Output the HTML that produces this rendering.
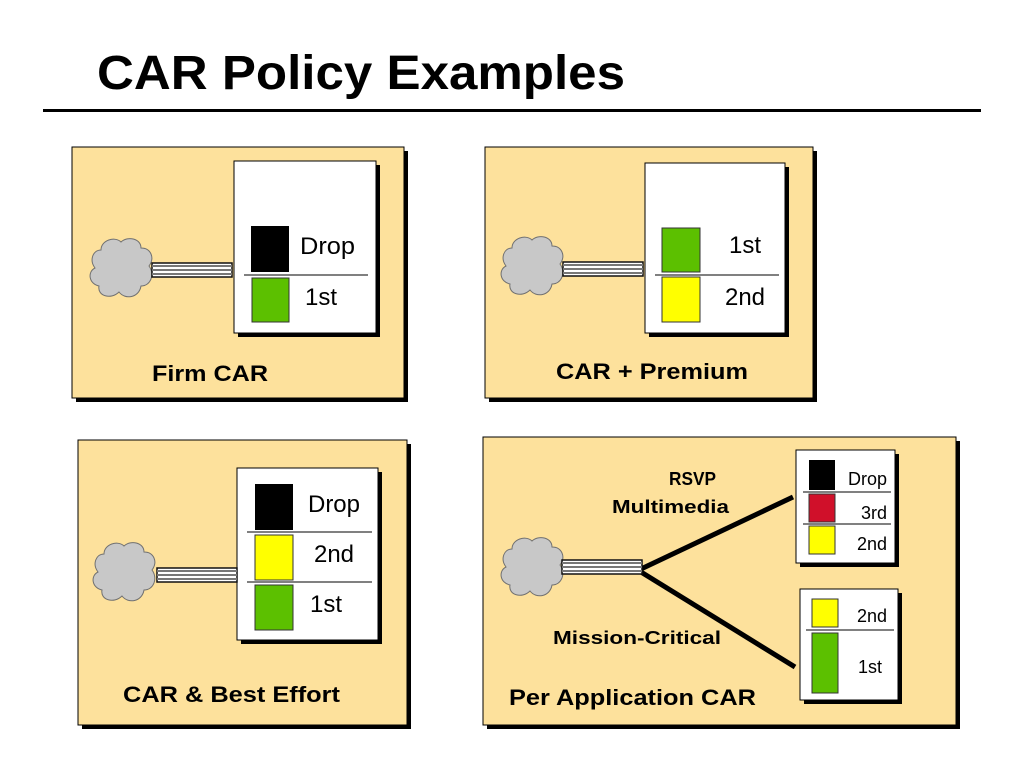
<!DOCTYPE html>
<html><head><meta charset="utf-8"><style>
body{margin:0;background:#fff;}
svg{display:block;font-family:"Liberation Sans",Arial,sans-serif;}
.b{font-weight:bold;}
</style></head><body>
<svg width="1024" height="768" viewBox="0 0 1024 768" xmlns="http://www.w3.org/2000/svg">
<defs>
<g id="cloud">
<path d="M12,14 C12,4 26,0 32,6 C38,0 52,2 52,12 C62,12 66,22 60,30 C66,38 62,50 52,50 C50,62 36,64 30,56 C22,64 8,60 10,50 C0,48 -2,36 6,32 C0,24 4,14 12,14 Z" fill="#c8c8c8" stroke="#707070" stroke-width="1"/>
</g>
<g id="cable">
<rect x="0" y="0" width="80" height="14" fill="#fff" stroke="#111" stroke-width="1.5"/>
<rect x="0" y="2" width="80" height="2" fill="#777"/>
<rect x="0" y="6" width="80" height="2" fill="#777"/>
<rect x="0" y="10" width="80" height="2" fill="#777"/>
</g>
</defs>
<text x="97" y="89" class="b" font-size="48" textLength="528" lengthAdjust="spacingAndGlyphs">CAR Policy Examples</text>
<rect x="43" y="109" width="938" height="3" fill="#000"/>

<!-- Panel 1 -->
<rect x="76" y="151" width="332" height="251" fill="#000"/>
<rect x="72" y="147" width="332" height="251" fill="#fde19c" stroke="#000" stroke-width="1"/>
<rect x="238" y="165" width="142" height="172" fill="#000"/>
<rect x="234" y="161" width="142" height="172" fill="#fff" stroke="#000" stroke-width="1"/>
<rect x="251" y="226" width="38" height="46" fill="#000"/>
<line x1="244" y1="275" x2="368" y2="275" stroke="#000" stroke-width="1"/>
<rect x="252" y="278" width="37" height="44" fill="#5cc000" stroke="#333"/>
<text x="300" y="254" font-size="24" textLength="55" lengthAdjust="spacingAndGlyphs">Drop</text>
<text x="305" y="305" font-size="24">1st</text>
<use href="#cloud" x="89" y="236"/>
<use href="#cable" x="152" y="263"/>
<text x="152" y="381" class="b" font-size="22" textLength="116" lengthAdjust="spacingAndGlyphs">Firm CAR</text>

<!-- Panel 2 -->
<rect x="489" y="151" width="328" height="251" fill="#000"/>
<rect x="485" y="147" width="328" height="251" fill="#fde19c" stroke="#000"/>
<rect x="649" y="167" width="140" height="170" fill="#000"/>
<rect x="645" y="163" width="140" height="170" fill="#fff" stroke="#000"/>
<rect x="662" y="228" width="38" height="44" fill="#5cc000" stroke="#333"/>
<line x1="655" y1="275" x2="779" y2="275" stroke="#000"/>
<rect x="662" y="277" width="38" height="45" fill="#ffff00" stroke="#333"/>
<text x="745" y="253" font-size="24" text-anchor="middle">1st</text>
<text x="745" y="305" font-size="24" text-anchor="middle">2nd</text>
<use href="#cloud" x="500" y="234"/>
<use href="#cable" x="563" y="262"/>
<text x="556" y="379" class="b" font-size="22" textLength="192" lengthAdjust="spacingAndGlyphs">CAR + Premium</text>

<!-- Panel 3 -->
<rect x="82" y="444" width="329" height="285" fill="#000"/>
<rect x="78" y="440" width="329" height="285" fill="#fde19c" stroke="#000"/>
<rect x="241" y="472" width="141" height="172" fill="#000"/>
<rect x="237" y="468" width="141" height="172" fill="#fff" stroke="#000"/>
<rect x="255" y="484" width="38" height="46" fill="#000"/>
<line x1="247" y1="532" x2="372" y2="532" stroke="#000"/>
<rect x="255" y="535" width="38" height="45" fill="#ffff00" stroke="#333"/>
<line x1="247" y1="582" x2="372" y2="582" stroke="#000"/>
<rect x="255" y="585" width="38" height="45" fill="#5cc000" stroke="#333"/>
<text x="334" y="512" font-size="24" text-anchor="middle">Drop</text>
<text x="334" y="562" font-size="24" text-anchor="middle">2nd</text>
<text x="326" y="612" font-size="24" text-anchor="middle">1st</text>
<use href="#cloud" x="92" y="540"/>
<use href="#cable" x="157" y="568"/>
<text x="123" y="702" class="b" font-size="22" textLength="217" lengthAdjust="spacingAndGlyphs">CAR &amp; Best Effort</text>

<!-- Panel 4 -->
<rect x="487" y="441" width="473" height="288" fill="#000"/>
<rect x="483" y="437" width="473" height="288" fill="#fde19c" stroke="#000"/>
<rect x="800" y="454" width="99" height="113" fill="#000"/>
<rect x="796" y="450" width="99" height="113" fill="#fff" stroke="#000"/>
<rect x="809" y="460" width="26" height="30" fill="#000"/>
<line x1="803" y1="492" x2="891" y2="492" stroke="#000"/>
<rect x="809" y="494" width="26" height="28" fill="#d0102a" stroke="#333"/>
<line x1="803" y1="524" x2="891" y2="524" stroke="#000"/>
<rect x="809" y="526" width="26" height="28" fill="#ffff00" stroke="#333"/>
<text x="887" y="485" font-size="18" text-anchor="end">Drop</text>
<text x="887" y="519" font-size="18" text-anchor="end">3rd</text>
<text x="887" y="550" font-size="18" text-anchor="end">2nd</text>
<rect x="804" y="593" width="98" height="111" fill="#000"/>
<rect x="800" y="589" width="98" height="111" fill="#fff" stroke="#000"/>
<rect x="812" y="599" width="26" height="28" fill="#ffff00" stroke="#333"/>
<line x1="806" y1="630" x2="894" y2="630" stroke="#000"/>
<rect x="812" y="633" width="26" height="60" fill="#5cc000" stroke="#333"/>
<text x="887" y="622" font-size="18" text-anchor="end">2nd</text>
<text x="882" y="673" font-size="18" text-anchor="end">1st</text>
<line x1="641" y1="569" x2="793" y2="497" stroke="#000" stroke-width="5"/>
<line x1="641" y1="572" x2="795" y2="667" stroke="#000" stroke-width="5"/>
<use href="#cloud" x="500" y="535"/>
<use href="#cable" x="562" y="560"/>
<text x="669" y="485" class="b" font-size="18" textLength="47" lengthAdjust="spacingAndGlyphs">RSVP</text>
<text x="612" y="513" class="b" font-size="18" textLength="117" lengthAdjust="spacingAndGlyphs">Multimedia</text>
<text x="553" y="644" class="b" font-size="18" textLength="168" lengthAdjust="spacingAndGlyphs">Mission-Critical</text>
<text x="509" y="705" class="b" font-size="22" textLength="247" lengthAdjust="spacingAndGlyphs">Per Application CAR</text>
</svg>
</body></html>
